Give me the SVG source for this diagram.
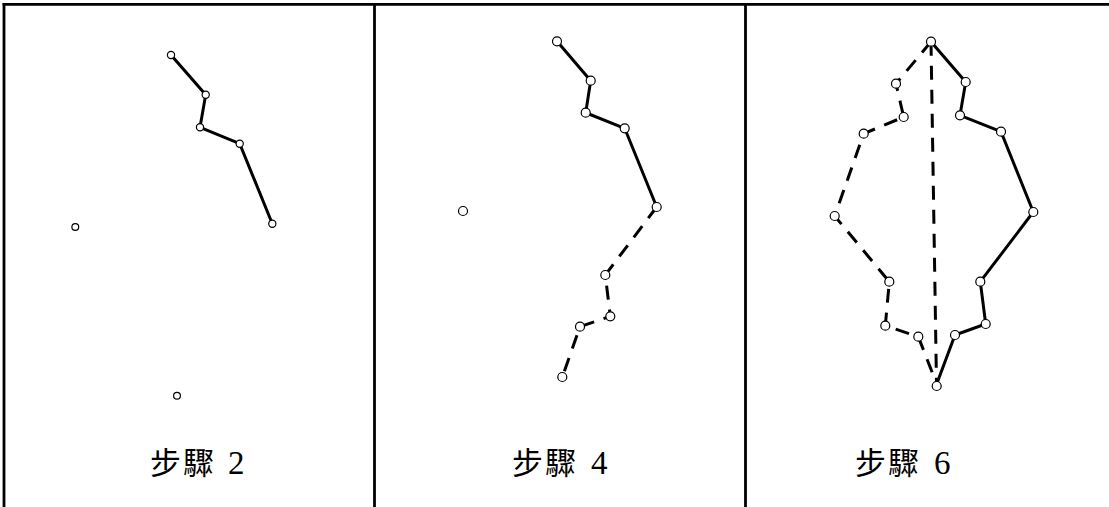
<svg xmlns="http://www.w3.org/2000/svg" width="1109" height="507" viewBox="0 0 1109 507">
<style>
.frame{stroke:#000;stroke-width:2.8;fill:none}
.solid{stroke:#000;stroke-width:3;fill:none;stroke-linecap:butt}
.dash{stroke:#000;stroke-width:3;fill:none;stroke-dasharray:14 10}
.n{fill:#fff;stroke:#000;stroke-width:1.2}
.lbl{font-family:"Liberation Serif","Noto Sans CJK TC",serif;font-size:31px;fill:#000}
.cjk{font-family:"Noto Sans CJK TC","Noto Sans CJK SC",sans-serif;letter-spacing:2px}
.dig{font-size:33px}
</style>
<rect width="1109" height="507" fill="#fff"/>
<g id="frames">
<line class="frame" x1="2.6" y1="4.3" x2="1109" y2="4.3"/>
<line class="frame" x1="4" y1="3" x2="4" y2="507"/>
<line class="frame" x1="374.5" y1="3" x2="374.5" y2="507"/>
<line class="frame" x1="745.5" y1="3" x2="745.5" y2="507"/>
</g>
<g id="connectors">
<polyline class="solid" points="171,55 205.7,94.7 200,127.3 239.7,143.7 272.3,223.7"/>
<polyline class="solid" points="557,41.3 590.7,80.7 585.7,112.7 624.7,128.3 656.7,207"/>
<polyline class="dash" points="656.7,207 605.3,275 610.3,316.3 580,326.7 562.3,377"/>
<polyline class="solid" points="931,41.7 965.7,82 960,115.3 1001,131.7 1033.3,212 980.3,281.7 985.7,324 955,335 936.7,384"/>
<polyline class="dash" points="931,41.7 896,83.7 903.7,117 863.7,133.7 834.7,216 889.3,281.7 885.3,325.7 918.3,336.7 936.7,384"/>
<line class="dash" x1="931" y1="41.7" x2="936.5" y2="384"/>
</g>
<g id="panel1">
<g id="p1n1"><circle class="n" cx="171" cy="55" r="3.6"/></g>
<g id="p1n2"><circle class="n" cx="205.7" cy="94.7" r="3.6"/></g>
<g id="p1n3"><circle class="n" cx="200" cy="127.3" r="3.6"/></g>
<g id="p1n4"><circle class="n" cx="239.7" cy="143.7" r="3.6"/></g>
<g id="p1n5"><circle class="n" cx="272.3" cy="223.7" r="3.6"/></g>
<g id="p1n6"><circle class="n" cx="75.3" cy="227" r="3.4"/></g>
<g id="p1n7"><circle class="n" cx="177" cy="395.7" r="3.4"/></g>
<g id="p1label"><text class="lbl" y="474"><tspan class="cjk" x="150">步驟</tspan><tspan class="dig" x="228">2</tspan></text></g>
</g>
<g id="panel2">
<g id="p2n1"><circle class="n" cx="557" cy="41.3" r="4.5"/></g>
<g id="p2n2"><circle class="n" cx="590.7" cy="80.7" r="4.5"/></g>
<g id="p2n3"><circle class="n" cx="585.7" cy="112.7" r="4.5"/></g>
<g id="p2n4"><circle class="n" cx="624.7" cy="128.3" r="4.5"/></g>
<g id="p2n5"><circle class="n" cx="656.7" cy="207" r="4.5"/></g>
<g id="p2n6"><circle class="n" cx="463" cy="211" r="4.5"/></g>
<g id="p2n7"><circle class="n" cx="605.3" cy="275" r="4.5"/></g>
<g id="p2n8"><circle class="n" cx="610.3" cy="316.3" r="4.5"/></g>
<g id="p2n9"><circle class="n" cx="580" cy="326.7" r="4.5"/></g>
<g id="p2n10"><circle class="n" cx="562.3" cy="377" r="4.5"/></g>
<g id="p2label"><text class="lbl" y="474"><tspan class="cjk" x="512">步驟</tspan><tspan class="dig" x="591">4</tspan></text></g>
</g>
<g id="panel3">
<g id="p3n1"><circle class="n" cx="931" cy="41.7" r="4.5"/></g>
<g id="p3n2"><circle class="n" cx="965.7" cy="82" r="4.5"/></g>
<g id="p3n3"><circle class="n" cx="960" cy="115.3" r="4.5"/></g>
<g id="p3n4"><circle class="n" cx="1001" cy="131.7" r="4.5"/></g>
<g id="p3n5"><circle class="n" cx="1033.3" cy="212" r="4.5"/></g>
<g id="p3n6"><circle class="n" cx="980.3" cy="281.7" r="4.5"/></g>
<g id="p3n7"><circle class="n" cx="985.7" cy="324" r="4.5"/></g>
<g id="p3n8"><circle class="n" cx="955" cy="335" r="4.5"/></g>
<g id="p3n9"><circle class="n" cx="936.7" cy="386" r="4.5"/></g>
<g id="p3n10"><circle class="n" cx="896" cy="83.7" r="4.5"/></g>
<g id="p3n11"><circle class="n" cx="903.7" cy="117" r="4.5"/></g>
<g id="p3n12"><circle class="n" cx="863.7" cy="133.7" r="4.5"/></g>
<g id="p3n13"><circle class="n" cx="834.7" cy="216" r="4.5"/></g>
<g id="p3n14"><circle class="n" cx="889.3" cy="281.7" r="4.5"/></g>
<g id="p3n15"><circle class="n" cx="885.3" cy="325.7" r="4.5"/></g>
<g id="p3n16"><circle class="n" cx="918.3" cy="336.7" r="4.5"/></g>
<g id="p3label"><text class="lbl" y="474"><tspan class="cjk" x="855">步驟</tspan><tspan class="dig" x="934">6</tspan></text></g>
</g>
</svg>
